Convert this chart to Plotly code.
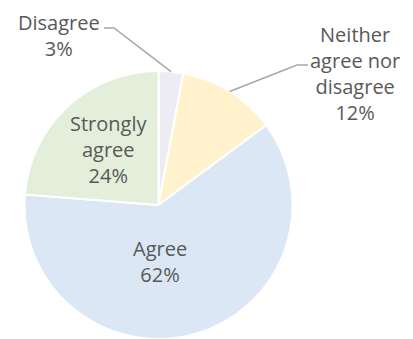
import math
import textwrap
import plotly.graph_objects as go

# Survey responses, listed clockwise from 12 o'clock
categories = ["Disagree", "Neither agree nor disagree", "Agree", "Strongly agree"]
shares = [3, 12, 62, 24]  # percent of respondents
colors = ["#ececf2", "#fff2cc", "#dbe7f4", "#e3efda"]

W, H = 413, 339
# pie placement in pixels (centre and radius)
CX, CY, R = 158.5, 205.0, 134.0

# label block centres in pixels, in the same order as the categories
label_pos = [(59, 35), (355, 74), (160, 261), (108, 149)]
# leader lines for the first two labels: (text end x, y, elbow x)
leader_elbow = [(104, 28, 114), (308, 65, 297)]

TEXT = "#595959"
FONT = "Open Sans"


def px(x):
    return x / W


def py(y):
    return 1 - y / H


fig = go.Figure(
    go.Pie(
        labels=categories,
        values=shares,
        sort=False,
        direction="clockwise",
        rotation=0,
        marker=dict(colors=colors, line=dict(color="white", width=2)),
        textinfo="none",
        hoverinfo="label+percent",
        showlegend=False,
        domain=dict(
            x=[px(CX - R), px(CX + R)],
            y=[py(CY + R), py(CY - R)],
        ),
    )
)

total = sum(shares)
annotations = []
shapes = []
cum = 0
for i, (cat, val) in enumerate(zip(categories, shares)):
    mid = (cum + val / 2) / total * 2 * math.pi
    cum += val
    text = "<br>".join(textwrap.wrap(cat, 9)) + f"<br>{val}%"
    lx, ly = label_pos[i]
    annotations.append(
        dict(
            x=px(lx), y=py(ly), xref="paper", yref="paper",
            text=text, showarrow=False, align="center",
            xanchor="center", yanchor="middle",
            font=dict(family=FONT, size=20, color=TEXT),
        )
    )
    if i < len(leader_elbow):
        tx, ty, ex = leader_elbow[i]
        # leader runs from the text, through an elbow, to the slice rim
        rx = CX + R * math.sin(mid)
        ry = CY - R * math.cos(mid)
        path = f"M {px(tx)} {py(ty)} L {px(ex)} {py(ty)} L {px(rx)} {py(ry)}"
        shapes.append(
            dict(type="path", path=path, xref="paper", yref="paper",
                 line=dict(color="#a6a6a6", width=1.5))
        )

fig.update_layout(
    width=W, height=H,
    margin=dict(l=0, r=0, t=0, b=0),
    paper_bgcolor="white",
    plot_bgcolor="white",
    annotations=annotations,
    shapes=shapes,
)

fig.write_html("out.html")
